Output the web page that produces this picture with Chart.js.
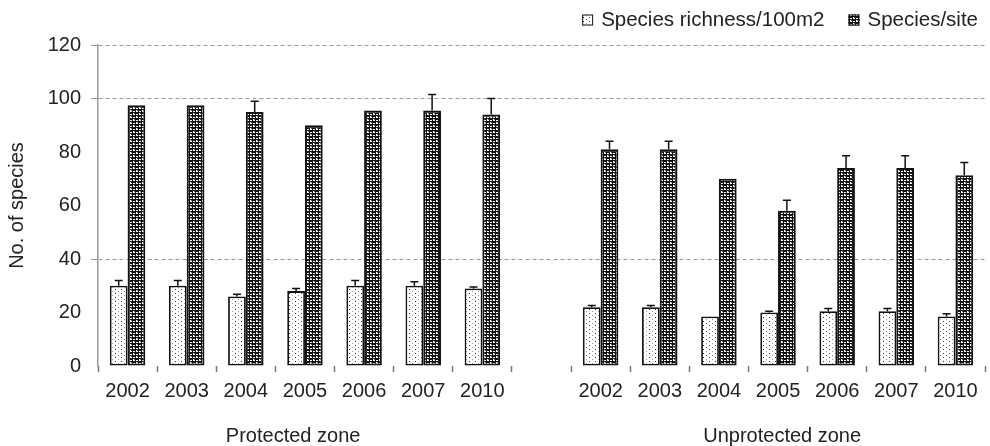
<!DOCTYPE html>
<html>
<head>
<meta charset="utf-8">
<script src="https://cdn.jsdelivr.net/npm/chart.js@4.4.1/dist/chart.umd.min.js"></script>
<style>
    html, body { margin: 0; padding: 0; background: #fff; }
    #wrap { width: 990px; height: 446px; }
</style>
</head>
<body>
<div id="wrap"><canvas id="chart" width="990" height="446"></canvas></div>
<script>
// x categories: 7 years protected, an empty gap slot, 7 years unprotected
const categories = ['2002', '2003', '2004', '2005', '2006', '2007', '2010', '',
                    '2002', '2003', '2004', '2005', '2006', '2007', '2010'];
const richness    = [30, 30, 26, 28, 30, 30, 29, null, 22, 22, 18.5, 20, 20.5, 20.5, 18.5];
const richnessErr = [2, 2, 0.8, 1, 2, 1.5, 0.5, null, 0.6, 0.6, 0, 0.5, 1, 1, 1];
const site        = [97.5, 97.5, 95, 90, 95.5, 95.5, 94, null, 81, 81, 70, 58, 74, 74, 71.3];
const siteErr     = [0, 0, 4, 0, 0, 6, 6, null, 3, 3, 0, 4, 4.6, 4.6, 4.8];
const seriesNames = ['Species richness/100m2', 'Species/site'];
const zoneNames   = ['Protected zone', 'Unprotected zone'];
const gridValues  = [40, 100, 120];

const FONT = "'Liberation Sans', Arial, sans-serif";
Chart.defaults.font.family = FONT;
Chart.defaults.font.size = 20;
Chart.defaults.color = '#222';

function makePattern(w, h, draw) {
    const c = document.createElement('canvas');
    c.width = w; c.height = h;
    const g = c.getContext('2d');
    draw(g);
    return g.createPattern(c, 'repeat');
}

// sparse dots on white
const dotFill = makePattern(6, 4, g => {
    g.fillStyle = '#fff'; g.fillRect(0, 0, 6, 4);
    g.fillStyle = '#333'; g.fillRect(1, 1, 1, 1);
    g.fillStyle = '#999'; g.fillRect(4, 3, 1, 1);
});

// dense woven check, darker
const weaveFill = makePattern(6, 6, g => {
    g.fillStyle = '#fff'; g.fillRect(0, 0, 6, 6);
    g.fillStyle = '#111';
    g.fillRect(0, 0, 1, 6); g.fillRect(3, 0, 1, 6);
    g.fillRect(0, 1, 6, 1); g.fillRect(0, 4, 6, 1);
    g.fillRect(1, 2, 2, 1); g.fillRect(4, 5, 2, 1);
    g.fillStyle = '#666';
    g.fillRect(5, 2, 1, 1); g.fillRect(2, 5, 1, 1);
});

const extras = {
    id: 'extras',
    afterDatasetsDraw(chart) {
        const ctx = chart.ctx, y = chart.scales.y;
        ctx.save();
        ctx.strokeStyle = '#111';
        ctx.lineWidth = 1.5;
        [richnessErr, siteErr].forEach((errs, d) => {
            const vals = chart.data.datasets[d].data;
            chart.getDatasetMeta(d).data.forEach((bar, i) => {
                if (!errs[i] || vals[i] == null) return;
                const top = y.getPixelForValue(vals[i] + errs[i]);
                ctx.beginPath();
                ctx.moveTo(bar.x, bar.y);
                ctx.lineTo(bar.x, top);
                ctx.moveTo(bar.x - 4, top);
                ctx.lineTo(bar.x + 4, top);
                ctx.stroke();
            });
        });
        ctx.restore();
    },
    afterDraw(chart) {
        const ctx = chart.ctx, x = chart.scales.x, area = chart.chartArea;
        ctx.save();
        ctx.font = '20px ' + FONT;
        ctx.fillStyle = '#222';

        // zone names under the year labels
        ctx.textAlign = 'center';
        ctx.textBaseline = 'alphabetic';
        ctx.fillText(zoneNames[0], x.getPixelForValue(2.8), 442);
        ctx.fillText(zoneNames[1], x.getPixelForValue(11.07), 442);

        // legend, top right
        ctx.font = '20.5px ' + FONT;
        ctx.textAlign = 'left';
        ctx.textBaseline = 'middle';
        const box = 11, gap = 8, spacing = 24, cy = 20;
        const widths = chart.data.datasets.map(ds => box + gap + ctx.measureText(ds.label).width);
        let lx = area.right - 7 - widths.reduce((a, b) => a + b, 0) - spacing * (widths.length - 1);
        chart.data.datasets.forEach((ds, d) => {
            ctx.fillStyle = ds.backgroundColor;
            ctx.fillRect(lx, cy - box / 2, box, box);
            ctx.strokeStyle = '#111';
            ctx.lineWidth = 1;
            ctx.strokeRect(lx + 0.5, cy - box / 2 + 0.5, box - 1, box - 1);
            ctx.fillStyle = '#222';
            ctx.fillText(ds.label, lx + box + gap, cy);
            lx += widths[d] + spacing;
        });
        ctx.restore();
    }
};

const gridColor = c => gridValues.includes(c.tick.value) ? '#999' : 'rgba(0,0,0,0)';

new Chart(document.getElementById('chart'), {
    type: 'bar',
    data: {
        labels: categories,
        datasets: [
            { label: seriesNames[0], data: richness, backgroundColor: dotFill,
              borderColor: '#111', borderWidth: 1.8, borderSkipped: false },
            { label: seriesNames[1], data: site, backgroundColor: weaveFill,
              borderColor: '#111', borderWidth: 2, borderSkipped: false }
        ]
    },
    options: {
        responsive: false,
        animation: false,
        datasets: { bar: { categoryPercentage: 0.6, barPercentage: 1.0 } },
        layout: { padding: { top: 45, right: 5, left: 0, bottom: 0 } },
        plugins: { legend: { display: false }, tooltip: { enabled: false } },
        scales: {
            x: {
                grid: { offset: true, drawOnChartArea: false, drawTicks: true,
                        tickLength: 6, tickColor: '#777', tickWidth: 1.5 },
                border: { display: false },
                ticks: { padding: 7, maxRotation: 0, autoSkip: false, color: '#222' },
                afterFit: s => { s.height = 80; }
            },
            y: {
                min: 0, max: 120,
                ticks: { stepSize: 20, padding: 10, color: '#222' },
                grid: { color: gridColor, tickColor: gridColor, tickLength: 7, lineWidth: 1 },
                border: { display: true, color: '#999', width: 1.5, dash: [4, 3] },
                title: { display: true, text: 'No. of species', padding: { top: 5, bottom: 0 },
                         font: { size: 20 }, color: '#222' },
                afterFit: s => { s.width = 98; }
            }
        }
    },
    plugins: [extras]
});
</script>
</body>
</html>
